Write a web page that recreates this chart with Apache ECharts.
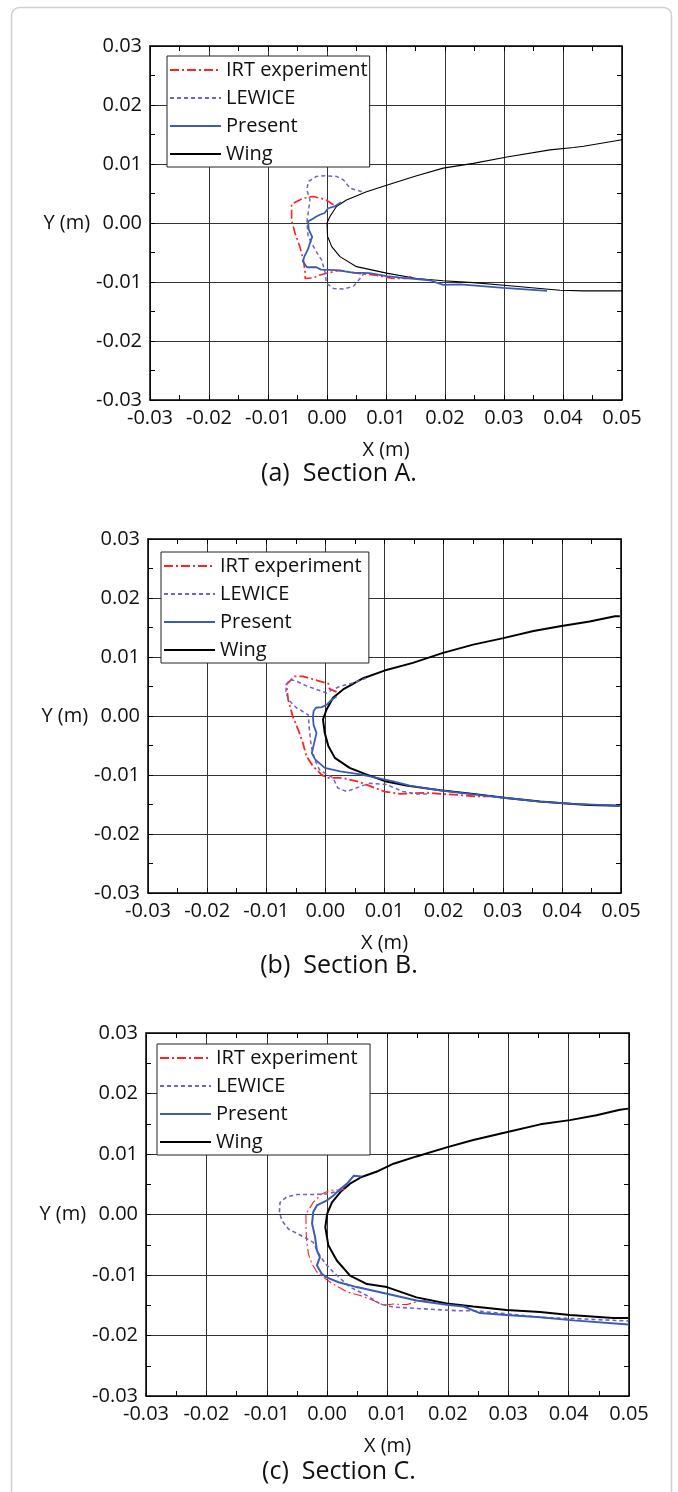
<!DOCTYPE html>
<html>
<head>
<meta charset="utf-8">
<script src="https://cdn.jsdelivr.net/npm/echarts@6/dist/echarts.min.js"></script>
<style>
html,body{margin:0;padding:0;background:#fff;}
#c{width:678px;height:1492px;}
</style>
</head>
<body>
<div id="c"></div>
<script>
// ---- data (x, y in metres) ----
const xTickRange = [-0.03, 0.05];
const yTickRange = [-0.03, 0.03];
const legendNames = ['IRT experiment', 'LEWICE', 'Present', 'Wing'];
const panelTitles = ['(a)  Section A.', '(b)  Section B.', '(c)  Section C.'];

const irtA = [[0.0011,0.0031],[-0.0003,0.0040],[-0.0023,0.0045],[-0.0040,0.0042],[-0.0060,0.0032],[-0.0060,0.0005],[-0.0054,-0.0018],[-0.0046,-0.0040],[-0.0040,-0.0063],[-0.0037,-0.0085],[-0.0037,-0.0094],[-0.0023,-0.0093],[-0.0012,-0.0088],[0.0022,-0.0080],[0.0050,-0.0085],[0.0079,-0.0088],[0.0112,-0.0094],[0.0135,-0.0094],[0.0144,-0.0090]];
const lewiceA = [[0.0059,0.0053],[0.0039,0.0059],[0.0028,0.0073],[0.0016,0.0079],[-0.0001,0.0080],[-0.0018,0.0079],[-0.0032,0.0070],[-0.0034,0.0056],[-0.0029,0.0039],[-0.0032,0.0016],[-0.0034,0.0002],[-0.0032,-0.0023],[-0.0026,-0.0034],[-0.0018,-0.0049],[-0.0009,-0.0063],[-0.0003,-0.0085],[-0.0001,-0.0102],[0.0011,-0.0111],[0.0028,-0.0112],[0.0045,-0.0107],[0.0056,-0.0094],[0.0067,-0.0080]];
const presentA = [[0.0024,0.0035],[0.0013,0.0028],[0.0002,0.0025],[-0.0004,0.0017],[-0.0012,0.0014],[-0.0018,0.0011],[-0.0024,0.0007],[-0.0032,0.0003],[-0.0034,0.0000],[-0.0031,-0.0011],[-0.0025,-0.0024],[-0.0027,-0.0028],[-0.0032,-0.0044],[-0.0038,-0.0056],[-0.0041,-0.0065],[-0.0034,-0.0075],[-0.0018,-0.0075],[-0.0010,-0.0079],[0.0016,-0.0080],[0.0044,-0.0084],[0.0072,-0.0085],[0.0101,-0.0090],[0.0129,-0.0093],[0.0174,-0.0097],[0.0197,-0.0105],[0.0226,-0.0104],[0.0299,-0.0110],[0.0373,-0.0115]];
const wingA = [[0.0500,0.0141],[0.0435,0.0130],[0.0418,0.0128],[0.0378,0.0124],[0.0305,0.0112],[0.0248,0.0101],[0.0197,0.0093],[0.0152,0.0080],[0.0101,0.0064],[0.0067,0.0053],[0.0033,0.0039],[0.0016,0.0028],[0.0005,0.0011],[0.0000,0.0000],[0.0001,-0.0023],[0.0008,-0.0040],[0.0022,-0.0057],[0.0050,-0.0074],[0.0101,-0.0085],[0.0152,-0.0094],[0.0197,-0.0098],[0.0248,-0.0101],[0.0305,-0.0106],[0.0361,-0.0111],[0.0395,-0.0114],[0.0435,-0.0115],[0.0500,-0.0115]];

const irtB = [[0.0019,0.0041],[0.0007,0.0046],[0.0005,0.0055],[-0.0038,0.0067],[-0.0052,0.0067],[-0.0066,0.0053],[-0.0063,0.0028],[-0.0055,-0.0001],[-0.0046,-0.0023],[-0.0038,-0.0046],[-0.0032,-0.0068],[-0.0021,-0.0085],[-0.0007,-0.0099],[0.0002,-0.0105],[0.0030,-0.0105],[0.0058,-0.0112],[0.0100,-0.0128],[0.0126,-0.0132],[0.0171,-0.0130],[0.0194,-0.0132],[0.0227,-0.0134],[0.0250,-0.0136],[0.0278,-0.0136]];
const lewiceB = [[0.0069,0.0064],[0.0047,0.0056],[0.0024,0.0050],[0.0013,0.0045],[0.0002,0.0039],[-0.0015,0.0045],[-0.0032,0.0051],[-0.0049,0.0059],[-0.0060,0.0062],[-0.0066,0.0053],[-0.0067,0.0039],[-0.0060,0.0025],[-0.0049,0.0014],[-0.0029,0.0002],[-0.0027,-0.0023],[-0.0024,-0.0051],[-0.0018,-0.0074],[-0.0010,-0.0091],[0.0013,-0.0105],[0.0021,-0.0122],[0.0036,-0.0128],[0.0052,-0.0122],[0.0075,-0.0114],[0.0103,-0.0116],[0.0131,-0.0128],[0.0154,-0.0132],[0.0177,-0.0132]];
const presentB = [[0.0019,0.0033],[0.0011,0.0028],[0.0002,0.0019],[-0.0006,0.0015],[-0.0016,0.0014],[-0.0020,0.0008],[-0.0021,-0.0001],[-0.0020,-0.0015],[-0.0015,-0.0029],[-0.0019,-0.0046],[-0.0023,-0.0063],[-0.0017,-0.0074],[-0.0001,-0.0088],[0.0025,-0.0094],[0.0059,-0.0099],[0.0087,-0.0105],[0.0115,-0.0111],[0.0143,-0.0118],[0.0194,-0.0126],[0.0250,-0.0133],[0.0306,-0.0139],[0.0363,-0.0145],[0.0419,-0.0149],[0.0498,-0.0152]];
const wingB = [[0.0498,0.0169],[0.0490,0.0169],[0.0447,0.0160],[0.0397,0.0152],[0.0352,0.0144],[0.0301,0.0132],[0.0250,0.0121],[0.0199,0.0107],[0.0148,0.0090],[0.0100,0.0077],[0.0064,0.0064],[0.0030,0.0045],[0.0013,0.0031],[0.0002,0.0011],[-0.0004,-0.0006],[-0.0001,-0.0029],[0.0005,-0.0051],[0.0016,-0.0071],[0.0041,-0.0088],[0.0069,-0.0099],[0.0103,-0.0111],[0.0137,-0.0118],[0.0194,-0.0126],[0.0250,-0.0132],[0.0306,-0.0139],[0.0363,-0.0145],[0.0419,-0.0149],[0.0447,-0.0151],[0.0498,-0.0152]];

const irtC = [[0.0030,0.0042],[0.0022,0.0041],[0.0005,0.0040],[-0.0009,0.0034],[-0.0023,0.0020],[-0.0031,0.0007],[-0.0035,0.0001],[-0.0035,-0.0021],[-0.0034,-0.0043],[-0.0031,-0.0065],[-0.0025,-0.0082],[-0.0017,-0.0095],[-0.0006,-0.0104],[0.0010,-0.0115],[0.0033,-0.0128],[0.0055,-0.0134],[0.0077,-0.0142],[0.0093,-0.0150],[0.0110,-0.0148],[0.0132,-0.0149],[0.0148,-0.0144],[0.0165,-0.0142]];
const lewiceC = [[0.0024,0.0040],[-0.0001,0.0034],[-0.0023,0.0033],[-0.0050,0.0033],[-0.0067,0.0029],[-0.0078,0.0020],[-0.0079,0.0004],[-0.0075,-0.0010],[-0.0064,-0.0024],[-0.0039,-0.0037],[-0.0023,-0.0046],[-0.0014,-0.0065],[-0.0003,-0.0081],[0.0010,-0.0095],[0.0022,-0.0106],[0.0038,-0.0120],[0.0066,-0.0134],[0.0088,-0.0148],[0.0110,-0.0153],[0.0159,-0.0156],[0.0215,-0.0159],[0.0242,-0.0159],[0.0297,-0.0164],[0.0353,-0.0170],[0.0408,-0.0172],[0.0499,-0.0176]];
const presentC = [[0.0057,0.0063],[0.0044,0.0064],[0.0033,0.0051],[0.0022,0.0042],[0.0010,0.0031],[-0.0001,0.0023],[-0.0017,0.0015],[-0.0023,0.0004],[-0.0025,-0.0015],[-0.0020,-0.0037],[-0.0017,-0.0059],[-0.0012,-0.0071],[-0.0017,-0.0084],[-0.0009,-0.0098],[-0.0001,-0.0104],[0.0019,-0.0112],[0.0049,-0.0120],[0.0099,-0.0131],[0.0148,-0.0142],[0.0198,-0.0149],[0.0226,-0.0152],[0.0253,-0.0163],[0.0297,-0.0166],[0.0353,-0.0170],[0.0408,-0.0175],[0.0499,-0.0182]];
const wingC = [[0.0499,0.0175],[0.0485,0.0173],[0.0446,0.0164],[0.0402,0.0156],[0.0353,0.0149],[0.0297,0.0136],[0.0242,0.0123],[0.0198,0.0111],[0.0148,0.0096],[0.0110,0.0084],[0.0085,0.0072],[0.0057,0.0062],[0.0038,0.0051],[0.0022,0.0037],[0.0008,0.0020],[0.0000,0.0001],[-0.0003,-0.0021],[0.0002,-0.0051],[0.0016,-0.0076],[0.0038,-0.0101],[0.0066,-0.0115],[0.0099,-0.0120],[0.0148,-0.0137],[0.0198,-0.0147],[0.0242,-0.0152],[0.0297,-0.0158],[0.0353,-0.0161],[0.0402,-0.0166],[0.0474,-0.0171],[0.0499,-0.0171]];

const panelData = [
  [irtA, lewiceA, presentA, wingA],
  [irtB, lewiceB, presentB, wingB],
  [irtC, lewiceC, presentC, wingC]
];

// ---- layout / style ----
const FONT = 'Open Sans';
const FS = 20;
const grids = [
  {left:150, top:46, width:472, height:354},
  {left:148, top:539, width:473, height:354},
  {left:146, top:1033, width:483, height:363}
];
const legendPos = [{left:167, top:56},{left:161, top:552},{left:157, top:1044}];
const titleY = [478, 970, 1476];
const styles = [
  // irt, lewice, present, wing widths per panel
  [1.6, 1.5, 1.8, 1.1],
  [1.8, 1.5, 1.8, 2.0],
  [1.1, 1.6, 2.0, 2.0]
];
const colors = ['#ff2222', '#7262c2', '#3a5cb4', '#000000'];
const dashTypes = [[9,3,2,3], [4,3], 'solid', 'solid'];

const fmt = v => (Math.abs(v) < 1e-9 ? '0.00' : v.toFixed(2));

const option = {
  animation:false,
  backgroundColor:'#fff',
  grid:[], xAxis:[], yAxis:[], series:[], legend:[], graphic:[]
};

grids.forEach((g, i) => {
  option.grid.push(Object.assign({containLabel:false}, g));
  const common = {
    type:'value', interval:0.01, splitNumber:8,
    axisLine:{show:true, onZero:false, lineStyle:{color:'#000', width:1.5}},
    axisTick:{show:true, inside:true, length:5, lineStyle:{color:'#000'}},
    minorTick:{show:true, splitNumber:2, length:5, lineStyle:{color:'#000'}},
    minorSplitLine:{show:false}
  };
  option.xAxis.push(Object.assign({}, common, {
    gridIndex:i, position:'bottom', min:xTickRange[0], max:xTickRange[1],
    name:'X (m)', nameLocation:'middle', nameGap:40,
    nameTextStyle:{fontFamily:FONT, fontSize:FS, color:'#111'},
    axisLabel:{show:true, formatter:fmt, margin:8, fontFamily:FONT, fontSize:FS, color:'#111'},
    splitLine:{show:true, lineStyle:{color:'#333', width:1}}
  }));
  option.xAxis.push(Object.assign({}, common, {
    gridIndex:i, position:'top', min:xTickRange[0], max:xTickRange[1],
    axisLabel:{show:false}, splitLine:{show:false}
  }));
  option.yAxis.push(Object.assign({}, common, {
    gridIndex:i, position:'left', min:yTickRange[0], max:yTickRange[1],
    name:'Y (m)', nameLocation:'middle', nameGap:58, nameRotate:0,
    nameTextStyle:{fontFamily:FONT, fontSize:FS, color:'#111'},
    axisLabel:{show:true, formatter:fmt, margin:8, fontFamily:FONT, fontSize:FS, color:'#111'},
    splitLine:{show:true, lineStyle:{color:'#333', width:1}}
  }));
  option.yAxis.push(Object.assign({}, common, {
    gridIndex:i, position:'right', min:yTickRange[0], max:yTickRange[1],
    axisLabel:{show:false}, splitLine:{show:false}
  }));

  const pad = ' '.repeat(i);
  const names = legendNames.map(n => n + pad);
  panelData[i].forEach((d, k) => {
    option.series.push({
      type:'line', name:names[k], xAxisIndex:2*i, yAxisIndex:2*i,
      data:d, symbol:'none', showSymbol:false, smooth:false, clip:true,
      z: k === 3 ? 3 : 4 + (k === 2 ? 1 : 0),
      lineStyle:{color:colors[k], width:styles[i][k], type:dashTypes[k]},
      itemStyle:{color:colors[k]}
    });
  });
  option.legend.push({
    left:legendPos[i].left, top:legendPos[i].top, orient:'vertical',
    data:names, itemWidth:51, itemHeight:14, itemGap:8,
    padding:[4,2,3,2], backgroundColor:'#fff', borderColor:'#222', borderWidth:1,
    selectedMode:false,
    itemStyle:{opacity:0},
    textStyle:{fontFamily:FONT, fontSize:FS, color:'#111', lineHeight:20, padding:[0,0,0,0]}
  });
  option.graphic.push({
    type:'text', left:'center', top:titleY[i]-17,
    style:{text:panelTitles[i], font:'25px "' + FONT + '"', fill:'#111'}
  });
});

// outer frame
option.graphic.push({
  type:'rect', left:9, top:5, z:-1,
  shape:{width:660, height:1500, r:8},
  style:{fill:'none', stroke:'#cfcfcf', lineWidth:1.5}
});

const chart = echarts.init(document.getElementById('c'), null, {renderer:'canvas'});
chart.setOption(option);
</script>
</body>
</html>
